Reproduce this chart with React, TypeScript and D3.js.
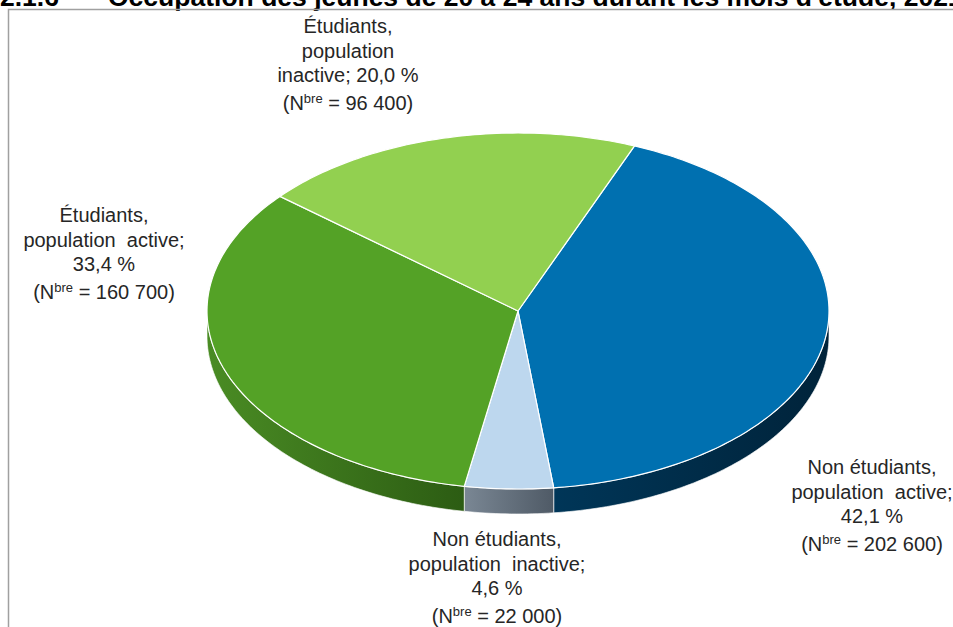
import React from "react";
import * as d3 from "d3";

const categories = [
  "Non étudiants, population active",
  "Non étudiants, population inactive",
  "Étudiants, population active",
  "Étudiants, population inactive",
];
const percents = [42.1, 4.6, 33.4, 20.0];
const counts = [202600, 22000, 160700, 96400];
const labelLines = [
  ["Non étudiants,", "population  active;"],
  ["Non étudiants,", "population  inactive;"],
  ["Étudiants,", "population  active;"],
  ["Étudiants,", "population"],
];
const titleNumber = "2.1.6";
const titleText = "Occupation des jeunes de 20 à 24 ans durant les mois d'étude, 2021";

const topColors = ["#0070B0", "#BDD7EE", "#54A226", "#92D050"];
const sideColorsA = ["#003658", "#7A8794", "#4A8C24", "#7FB844"];
const sideColorsB = ["#00233A", "#4F5A66", "#2C5C13", "#5E9A2E"];

// label layout: center x, first baseline, whether percent is on same line as line 2
const labelLayout = [
  { x: 872, y: 474, inline: false },
  { x: 497, y: 546, inline: false },
  { x: 104, y: 222, inline: false },
  { x: 348, y: 33, inline: true },
];

const W = 953;
const H = 627;
const cx = 518;
const cy = 311;
const rx = 311;
const ry = 178;
const depth = 25;
const startDeg = 22;

const loc = d3.formatLocale({ decimal: ",", thousands: " ", grouping: [3], currency: ["", ""] });
const fmtCount = loc.format(",d");
const fmtPct = loc.format(".1f");

function pt(t: number, dy = 0): [number, number] {
  return [cx + rx * Math.sin(t), cy - ry * Math.cos(t) + dy];
}

function arcPoints(a0: number, a1: number, dy = 0): [number, number][] {
  const n = Math.max(2, Math.ceil(((a1 - a0) / (2 * Math.PI)) * 360));
  const pts: [number, number][] = [];
  for (let i = 0; i <= n; i++) {
    const t = a0 + ((a1 - a0) * i) / n;
    pts.push(pt(t, dy));
  }
  return pts;
}

export default function App() {
  const pie = d3
    .pie<number>()
    .sort(null)
    .startAngle((startDeg * Math.PI) / 180)
    .endAngle((startDeg * Math.PI) / 180 + 2 * Math.PI);
  const arcs = pie(percents);
  const line = d3.line();

  const sides: { d: string; i: number }[] = [];
  arcs.forEach((a, i) => {
    for (const off of [0, 2 * Math.PI]) {
      const lo = Math.max(a.startAngle, Math.PI / 2 + off);
      const hi = Math.min(a.endAngle, (3 * Math.PI) / 2 + off);
      if (hi > lo) {
        const topPts = arcPoints(lo, hi);
        const botPts = arcPoints(lo, hi, depth).reverse();
        sides.push({ d: line([...topPts, ...botPts])! + "Z", i });
      }
    }
  });

  const tops = arcs.map((a, i) => {
    const pts = [[cx, cy] as [number, number], ...arcPoints(a.startAngle, a.endAngle)];
    return { d: line(pts)! + "Z", i };
  });

  const fontFamily = "'Liberation Sans', Arial, sans-serif";
  const lh = 24.5;

  return (
    <svg
      width={W}
      height={H}
      style={{ position: "absolute", left: 0, top: 0, background: "#fff" }}
      xmlns="http://www.w3.org/2000/svg"
    >
      <defs>
        {categories.map((_, i) => (
          <linearGradient key={i} id={`side${i}`} x1="0" x2="1" y1="0" y2="0">
            <stop offset="0%" stopColor={sideColorsA[i]} />
            <stop offset="100%" stopColor={sideColorsB[i]} />
          </linearGradient>
        ))}
      </defs>
      <rect x={0} y={0} width={W} height={H} fill="#fff" />
      <text x={0} y={6} fontFamily={fontFamily} fontWeight="bold" fontSize={26.5} fill="#000">
        {titleNumber}
      </text>
      <text x={108} y={6} fontFamily={fontFamily} fontWeight="bold" fontSize={26.5} fill="#000">
        {titleText}
      </text>
      <rect x={8.5} y={9.5} width={W + 20} height={H + 20} fill="none" stroke="#a0a0a0" strokeWidth={1.5} />

      {sides.map((s, k) => (
        <path key={"s" + k} d={s.d} fill={`url(#side${s.i})`} stroke="#ffffff" strokeWidth={0.8} strokeOpacity={0.8} />
      ))}
      {tops.map((t) => (
        <path key={"t" + t.i} d={t.d} fill={topColors[t.i]} stroke="#ffffff" strokeWidth={1.2} strokeLinejoin="round" />
      ))}

      {categories.map((c, i) => {
        const L = labelLayout[i];
        const pctStr = `${fmtPct(percents[i])} %`;
        const lines: string[] = L.inline
          ? [labelLines[i][0], labelLines[i][1], `inactive; ${pctStr}`]
          : [labelLines[i][0], labelLines[i][1], pctStr];
        return (
          <g key={"l" + i} fontFamily={fontFamily} fontSize={20} fill="#262626" textAnchor="middle">
            {lines.map((ln, j) => (
              <text key={j} x={L.x} y={L.y + j * lh} style={{ whiteSpace: "pre" }}>
                {ln}
              </text>
            ))}
            <text x={L.x} y={L.y + 3 * lh + 3}>
              <tspan>(N</tspan>
              <tspan fontSize={13} dy={-7}>bre</tspan>
              <tspan dy={7}>{` = ${fmtCount(counts[i])})`}</tspan>
            </text>
          </g>
        );
      })}
    </svg>
  );
}
